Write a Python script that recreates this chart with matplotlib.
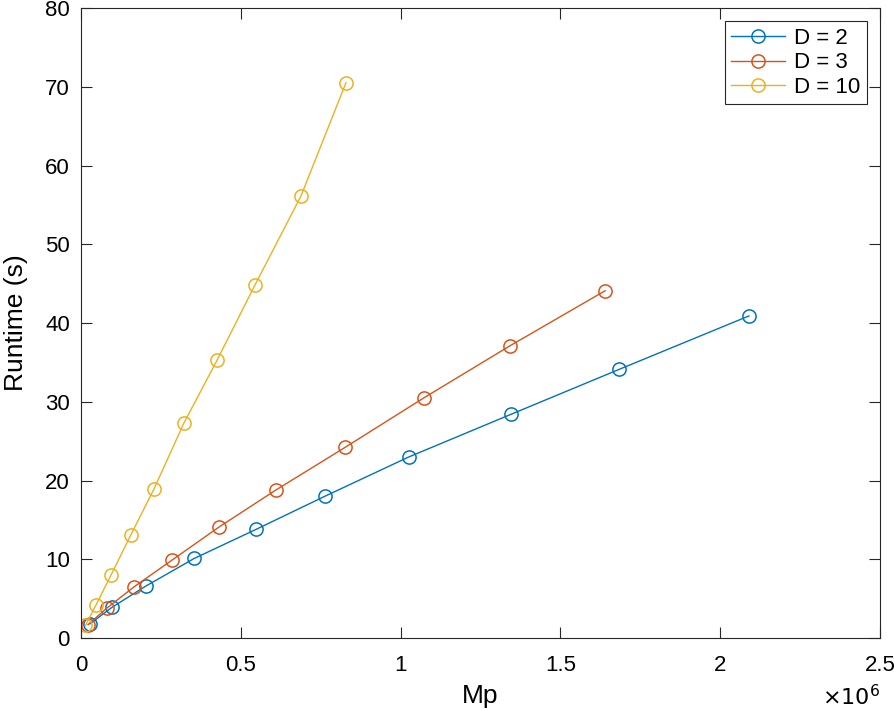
import matplotlib
matplotlib.use("Agg")
import matplotlib.pyplot as plt
from matplotlib.ticker import FuncFormatter

plt.rcParams['font.family'] = ['Liberation Sans', 'DejaVu Sans']

# Mp (points) and runtime (s) for each D
mp_d2 = [0.028e6, 0.097e6, 0.203e6, 0.354e6, 0.548e6, 0.763e6, 1.026e6, 1.345e6, 1.683e6, 2.090e6]
rt_d2 = [1.8, 3.9, 6.6, 10.1, 13.8, 18.0, 23.0, 28.4, 34.1, 40.9]

mp_d3 = [0.022e6, 0.081e6, 0.166e6, 0.285e6, 0.432e6, 0.610e6, 0.826e6, 1.073e6, 1.342e6, 1.640e6]
rt_d3 = [1.7, 3.8, 6.5, 9.9, 14.1, 18.8, 24.2, 30.5, 37.1, 44.1]

mp_d10 = [0.014e6, 0.047e6, 0.094e6, 0.156e6, 0.228e6, 0.322e6, 0.426e6, 0.544e6, 0.688e6, 0.829e6]
rt_d10 = [1.6, 4.2, 8.0, 13.1, 18.9, 27.3, 35.3, 44.8, 56.1, 70.5]

labels = ["D = 2", "D = 3", "D = 10"]
colors = ["#0072BD", "#D95319", "#EDB120"]

fig = plt.figure(figsize=(8.94, 7.09), dpi=100)
ax = fig.add_axes([0.0906, 0.1001, 0.8937, 0.8886])

for x, y, lab, c in zip([mp_d2, mp_d3, mp_d10], [rt_d2, rt_d3, rt_d10], labels, colors):
    ax.plot(x, y, color=c, marker='o', markersize=9.5, markerfacecolor='none',
            markeredgewidth=1.1, linewidth=1.0, label=lab)

ax.set_xlim(0, 2.5e6)
ax.set_ylim(0, 80)
ax.set_xticks([0, 0.5e6, 1e6, 1.5e6, 2e6, 2.5e6])
ax.set_yticks(range(0, 81, 10))
ax.xaxis.set_major_formatter(FuncFormatter(lambda v, p: "%g" % (v / 1e6)))

ax.tick_params(direction='in', length=8, width=0.8, labelsize=16, top=True, right=True,
               labeltop=False, labelright=False, colors='#262626', labelcolor='black')
ax.tick_params(axis='x', pad=12)
ax.tick_params(axis='y', pad=8)
for s in ax.spines.values():
    s.set_color('#262626')
    s.set_linewidth(0.8)

ax.set_xlabel("Mp", fontsize=19, labelpad=6)
ax.set_ylabel("Runtime (s)", fontsize=19, labelpad=12)

fig.text(880 / 894, 4 / 709, r"$\times10^{6}$", ha='right', va='baseline',
         fontsize=16, math_fontfamily='dejavusans')

leg = ax.legend(loc='upper right', fontsize=16, fancybox=False, edgecolor='#262626',
                framealpha=1, borderaxespad=0.6, handlelength=2.4, handletextpad=0.4,
                borderpad=0.3, labelspacing=0.15)
leg.get_frame().set_linewidth(0.8)

fig.savefig("out.png", dpi=100)
